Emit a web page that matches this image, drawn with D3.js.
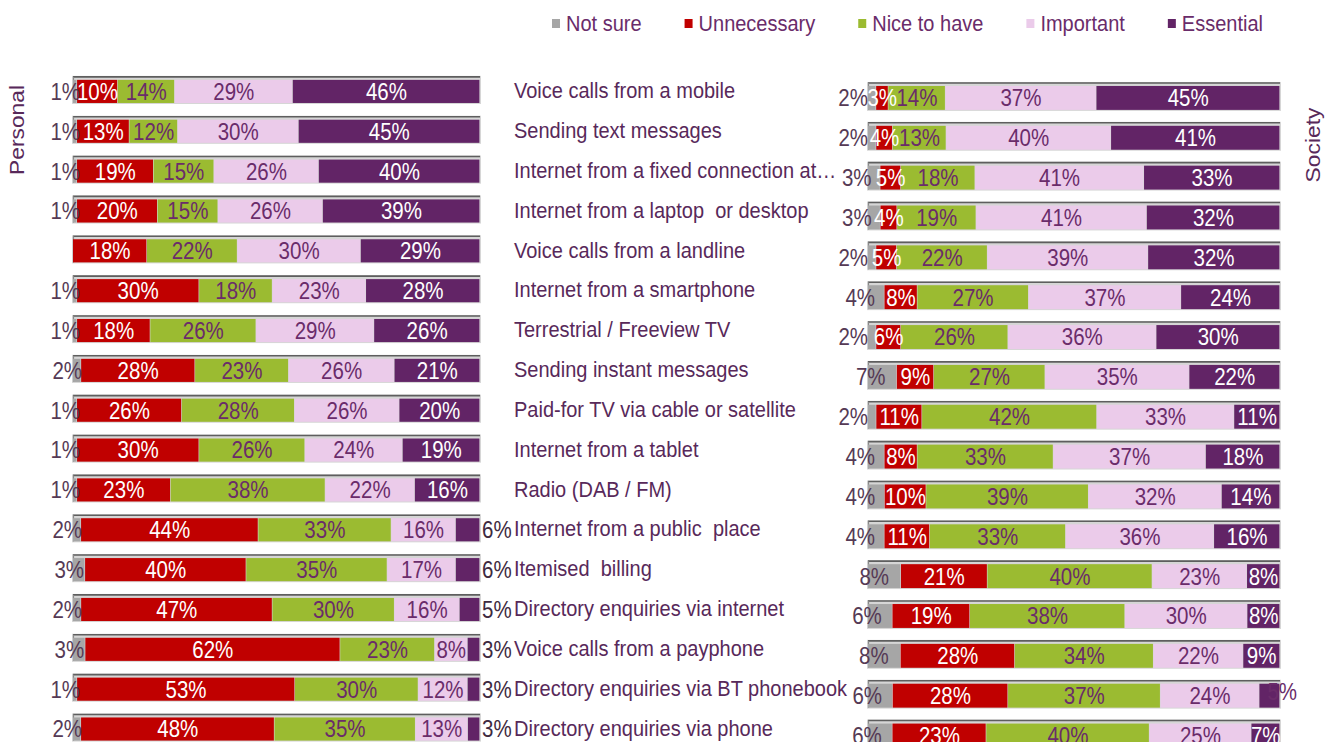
<!DOCTYPE html>
<html>
<head>
<meta charset="utf-8">
<script src="https://cdn.jsdelivr.net/npm/d3@7"></script>
<style>
  html, body { margin: 0; padding: 0; background: #ffffff; }
  svg { display: block; font-family: "Liberation Sans", Arial, sans-serif; }
</style>
</head>
<body>
<svg id="chart" width="1326" height="742"></svg>
<script>
// Services rated by how necessary they are, for the respondent personally and for society
const categories = [
  "Voice calls from a mobile",
  "Sending text messages",
  "Internet from a fixed connection at\u2026",
  "Internet from a laptop  or desktop",
  "Voice calls from a landline",
  "Internet from a smartphone",
  "Terrestrial / Freeview TV",
  "Sending instant messages",
  "Paid-for TV via cable or satellite",
  "Internet from a tablet",
  "Radio (DAB / FM)",
  "Internet from a public  place",
  "Itemised  billing",
  "Directory enquiries via internet",
  "Voice calls from a payphone",
  "Directory enquiries via BT phonebook",
  "Directory enquiries via phone"
];

const seriesNames = ["Not sure", "Unnecessary", "Nice to have", "Important", "Essential"];

// Personal
const personalNotSure     = [1, 1, 1, 1, 0, 1, 1, 2, 1, 1, 1, 2, 3, 2, 3, 1, 2];
const personalUnnecessary = [10, 13, 19, 20, 18, 30, 18, 28, 26, 30, 23, 44, 40, 47, 62, 53, 48];
const personalNiceToHave  = [14, 12, 15, 15, 22, 18, 26, 23, 28, 26, 38, 33, 35, 30, 23, 30, 35];
const personalImportant   = [29, 30, 26, 26, 30, 23, 29, 26, 26, 24, 22, 16, 17, 16, 8, 12, 13];
const personalEssential   = [46, 45, 40, 39, 29, 28, 26, 21, 20, 19, 16, 6, 6, 5, 3, 3, 3];

// Society
const societyNotSure     = [2, 2, 3, 3, 2, 4, 2, 7, 2, 4, 4, 4, 8, 6, 8, 6, 6];
const societyUnnecessary = [3, 4, 5, 4, 5, 8, 6, 9, 11, 8, 10, 11, 21, 19, 28, 28, 23];
const societyNiceToHave  = [14, 13, 18, 19, 22, 27, 26, 27, 42, 33, 39, 33, 40, 38, 34, 37, 40];
const societyImportant   = [37, 40, 41, 41, 39, 37, 36, 35, 33, 37, 32, 36, 23, 30, 22, 24, 25];
const societyEssential   = [45, 41, 33, 32, 32, 24, 30, 22, 11, 18, 14, 16, 8, 8, 9, 5, 7];

const seriesColors = ["#a6a6a6", "#c00000", "#9bbb31", "#ebcbea", "#622466"];
const labelColors  = ["#553a55", "#ffffff", "#6a2c6a", "#6a2c6a", "#ffffff"];

function buildRows(ns, un, nh, im, es) {
  return categories.map((c, i) => ({
    category: c,
    "Not sure": ns[i],
    "Unnecessary": un[i],
    "Nice to have": nh[i],
    "Important": im[i],
    "Essential": es[i]
  }));
}

const personalRows = buildRows(personalNotSure, personalUnnecessary, personalNiceToHave, personalImportant, personalEssential);
const societyRows  = buildRows(societyNotSure, societyUnnecessary, societyNiceToHave, societyImportant, societyEssential);

const svg = d3.select("#chart");
const STRETCH = 1.14;               // text is drawn slightly tall
const textTf = (x, y, rot) => `translate(${x},${y}) scale(1,${STRETCH})` + (rot ? ` rotate(${rot})` : "");

const stack = d3.stack().keys(seriesNames).offset(d3.stackOffsetExpand);

const step = 39.85;
const yPersonal = d3.scaleBand().domain(categories)
  .range([71.5, 71.5 + step * categories.length])
  .paddingInner(0.42).paddingOuter(0.21);
const ySociety = d3.scaleBand().domain(categories)
  .range([78, 78 + step * categories.length])
  .paddingInner(0.40).paddingOuter(0.20);

const xPersonal = d3.scaleLinear().domain([0, 1]).range([73, 480]);
const xSociety  = d3.scaleLinear().domain([0, 1]).range([868, 1280]);

function drawPanel(rows, x, y, side) {
  const g = svg.append("g").attr("class", "panel-" + side);
  const bw = y.bandwidth();

  // frame behind each bar: light gray border with a dark top edge
  const frames = g.append("g").selectAll("g").data(rows).join("g");
  frames.append("rect")
    .attr("x", x(0) - 1).attr("y", d => y(d.category) - 4)
    .attr("width", x(1) - x(0) + 2).attr("height", bw + 5)
    .attr("fill", "#d6d6d6");
  frames.append("line")
    .attr("x1", x(0)).attr("x2", x(1))
    .attr("y1", d => y(d.category) - 3).attr("y2", d => y(d.category) - 3)
    .attr("stroke", "#5e5e5e").attr("stroke-width", 1.6);
  frames.append("line")
    .attr("x1", x(0) + 0.5).attr("x2", x(0) + 0.5)
    .attr("y1", d => y(d.category) - 3).attr("y2", d => y(d.category) + bw)
    .attr("stroke", "#8a8a8a").attr("stroke-width", 1.2);

  const layers = stack(rows);

  g.append("g").selectAll("g").data(layers).join("g")
    .attr("fill", (d, i) => seriesColors[i])
    .selectAll("rect").data(d => d).join("rect")
      .attr("x", d => x(d[0]))
      .attr("y", d => y(d.data.category))
      .attr("width", d => Math.max(0, x(d[1]) - x(d[0]) - 0.6))
      .attr("height", bw);

  // value labels
  const labels = [];
  layers.forEach((layer, si) => {
    layer.forEach(d => {
      const v = d.data[seriesNames[si]];
      if (!v) return;
      const x0 = x(d[0]), x1 = x(d[1]);
      const cy = y(d.data.category) + bw / 2;
      let lx = (x0 + x1) / 2, anchor = "middle", fill = labelColors[si], dy = 0;
      if (si === 0) {
        anchor = "end";
        lx = side === "personal" ? (x0 + x1) / 2 + 5 : x0 + 0.85 * (x1 - x0) - 7;
      }
      if (si === 4 && side === "personal" && v < 10) {
        anchor = "start"; lx = x(1) + 2; fill = "#3e2a40";
      }
      if (si === 4 && side === "society" && v < 6) {
        anchor = "start"; lx = x0 + 8; fill = "#6a2c6a"; dy = -4;
      }
      labels.push({ text: v + "%", x: lx, y: cy + dy, anchor, fill });
    });
  });

  g.append("g").selectAll("text").data(labels).join("text")
    .attr("transform", d => textTf(d.x, d.y))
    .attr("dy", "0.36em")
    .attr("text-anchor", d => d.anchor)
    .attr("fill", d => d.fill)
    .style("font-size", "20.5px")
    .text(d => d.text);
}

drawPanel(personalRows, xPersonal, yPersonal, "personal");
drawPanel(societyRows, xSociety, ySociety, "society");

// category names between the two panels
svg.append("g").selectAll("text").data(categories).join("text")
  .attr("transform", d => textTf(514, yPersonal(d) + yPersonal.bandwidth() / 2 - 1.5))
  .attr("dy", "0.36em")
  .attr("fill", "#58295a")
  .style("font-size", "20px")
  .style("white-space", "pre")
  .text(d => d);

// side titles
svg.append("text")
  .attr("transform", textTf(17, 130, -90))
  .attr("dy", "0.36em")
  .attr("text-anchor", "middle")
  .attr("fill", "#58295a")
  .style("font-size", "20px")
  .text("Personal");

svg.append("text")
  .attr("transform", textTf(1313, 145, -90))
  .attr("dy", "0.36em")
  .attr("text-anchor", "middle")
  .attr("fill", "#58295a")
  .style("font-size", "20px")
  .text("Society");

// legend
const legend = svg.append("g").attr("class", "legend");
let lx = 552;
seriesNames.forEach((name, i) => {
  const item = legend.append("g");
  item.append("rect")
    .attr("x", lx).attr("y", 19).attr("width", 8).attr("height", 9)
    .attr("fill", seriesColors[i]);
  const t = item.append("text")
    .attr("transform", textTf(lx + 14, 23))
    .attr("dy", "0.36em")
    .attr("fill", "#6a2c6a")
    .style("font-size", "20px")
    .text(name);
  lx += 14 + t.node().getComputedTextLength() + 43;
});
</script>
</body>
</html>
